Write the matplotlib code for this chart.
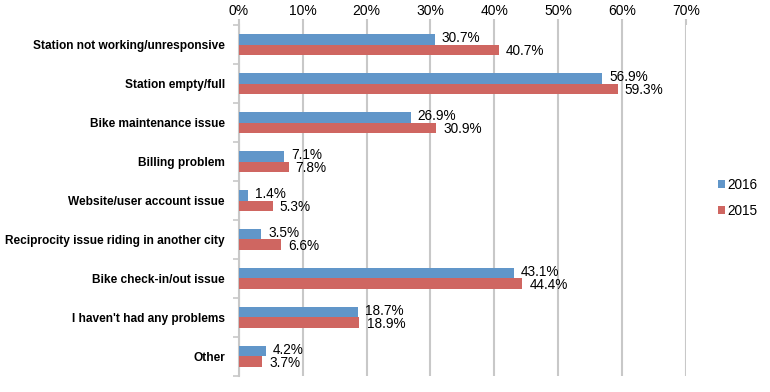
import matplotlib.pyplot as plt
import numpy as np

plt.rcParams['font.family'] = ['Liberation Sans', 'DejaVu Sans']

categories = ['Station not working/unresponsive', 'Station empty/full',
              'Bike maintenance issue', 'Billing problem',
              'Website/user account issue',
              'Reciprocity issue riding in another city',
              'Bike check-in/out issue', "I haven't had any problems", 'Other']
vals_2016 = [30.7, 56.9, 26.9, 7.1, 1.4, 3.5, 43.1, 18.7, 4.2]
vals_2015 = [40.7, 59.3, 30.9, 7.8, 5.3, 6.6, 44.4, 18.9, 3.7]
xticks = [0, 10, 20, 30, 40, 50, 60, 70]

blue = '#6196C9'
red = '#CF6661'
grid = '#C8C8C8'

fig = plt.figure(figsize=(7.7, 3.92), dpi=100)
ax = fig.add_axes([0.310, 0.041, 0.581, 0.895])

y = np.arange(len(categories))
h = 0.28
b1 = ax.barh(y - h / 2, vals_2016, height=h, color=blue, label='2016', zorder=3)
b2 = ax.barh(y + h / 2, vals_2015, height=h, color=red, label='2015', zorder=3)

for yy, v in zip(y, vals_2016):
    ax.text(v + 1.1, yy - h / 2 - 0.02, f'{v:.1f}%', va='center', ha='left', fontsize=9.8)
for yy, v in zip(y, vals_2015):
    ax.text(v + 1.1, yy + h / 2 + 0.02, f'{v:.1f}%', va='center', ha='left', fontsize=9.8)

ax.set_xlim(0, 70)
ax.set_ylim(len(categories) - 0.5, -0.5)
ax.xaxis.tick_top()
ax.set_xticks(xticks)
ax.set_xticklabels([f'{t}%' for t in xticks], fontsize=10)
ax.tick_params(axis='x', length=4, color=grid, width=1.5, pad=1)
for t in xticks:
    ax.axvline(t, color=grid, lw=1.5, zorder=1)

ax.set_yticks(y)
ax.set_yticklabels(categories, fontsize=8.6, fontweight='bold')
ax.tick_params(axis='y', length=0, pad=10)
ax.set_yticks(np.arange(-0.5, len(categories)), minor=True)
ax.tick_params(axis='y', which='minor', length=4, color=grid, width=1.2)

for s in ['top', 'right', 'bottom']:
    ax.spines[s].set_visible(False)
ax.spines['left'].set_color(grid)
ax.spines['left'].set_linewidth(1.5)

fig.legend(handles=[b1, b2], labels=['2016', '2015'], loc='center left',
           bbox_to_anchor=(0.917, 0.495), frameon=False, fontsize=9.8,
           handlelength=0.5, handleheight=0.5, handletextpad=0.15,
           labelspacing=0.85)

fig.savefig('out.png', dpi=100)
